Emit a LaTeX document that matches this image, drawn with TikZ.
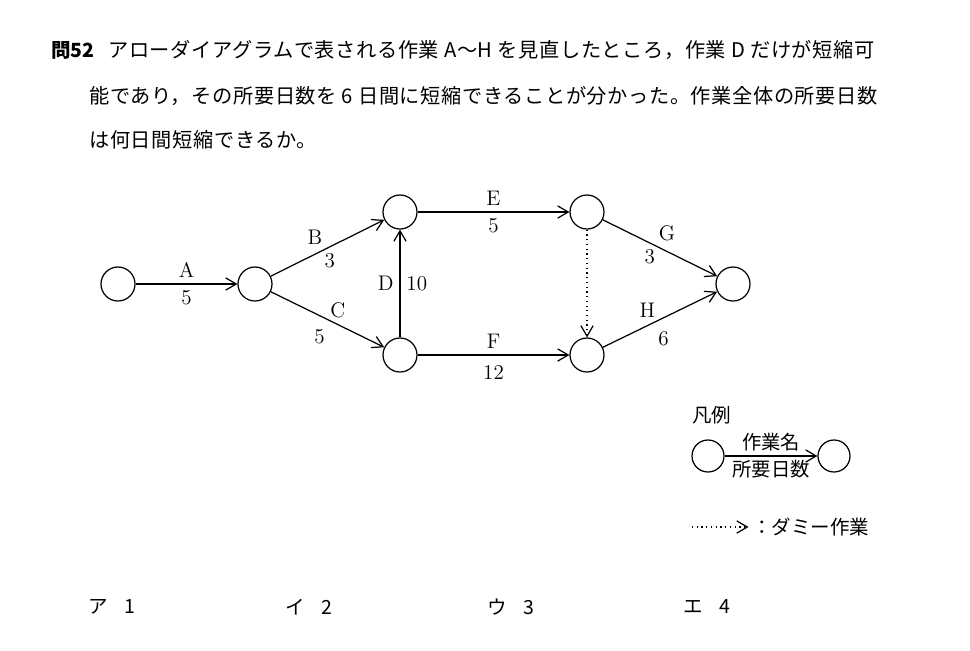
\documentclass[tikz,border=0pt]{standalone}
\usepackage{fontspec}
\usepackage{tikz}
\usetikzlibrary{shapes,arrows.meta}
\newfontfamily\jpfont{Noto Sans CJK JP}
\newfontfamily\jpwide[LetterSpace=3]{Noto Sans CJK JP}

\begin{document}
\begin{tikzpicture}[x=0.02cm,y=-0.02cm,
    event/.style={draw,circle,minimum size=0.68cm,inner sep=0pt,line width=0.7pt},
    act/.style={line width=0.7pt,-{Straight Barb[length=6pt,width=7pt]}},
    lbl/.style={font=\fontsize{12}{14}\selectfont},
    jp/.style={font=\jpfont\fontsize{11}{13}\selectfont},
    txt/.style={font=\jpfont\fontsize{11.1}{13}\selectfont,anchor=west,inner sep=0pt},
    qtxt/.style={txt,font=\jpwide\fontsize{11.5}{13}\selectfont}]
    \useasboundingbox (0,0) rectangle (970,650);

    \node[txt,font=\jpfont\bfseries\fontsize{11.1}{13}\selectfont] (qno) at (51,50) {問52};
    \node[qtxt] (q1) at (108,50) {アローダイアグラムで表される作業 A〜H を見直したところ，作業 D だけが短縮可};
    \node[qtxt] (q2) at (89,96) {能であり，その所要日数を 6 日間に短縮できることが分かった。作業全体の所要日数};
    \node[qtxt] (q3) at (89,140) {は何日間短縮できるか。};

    \node[event] (n1) at (118,284) {};
    \node[event] (n2) at (255,284) {};
    \node[event] (n3) at (400,212) {};
    \node[event] (n4) at (400,355) {};
    \node[event] (n5) at (587,212) {};
    \node[event] (n6) at (587,355) {};
    \node[event] (n7) at (733,284) {};

    \draw[act] (n1) to node[lbl,above] {A} node[lbl,below] {5} (n2);
    \draw[act] (n2) to node[lbl,pos=0.39,above=2pt] {B}
      node[lbl,pos=0.52,below] {3} (n3);
    \draw[act] (n2) to node[lbl,pos=0.59,above] {C}
      node[lbl,pos=0.43,below=4pt] {5} (n4);
    \draw[act] (n4) to node[lbl,left] {D} node[lbl,right] {10} (n3);
    \draw[act] (n3) to node[lbl,above] {E} node[lbl,below] {5} (n5);
    \draw[act] (n4) to node[lbl,above] {F} node[lbl,below=2pt] {12} (n6);
    \draw[act,dotted] (n5) to (n6);
    \draw[act] (n5) to node[lbl,pos=0.56,above=2.5pt] {G}
      node[lbl,pos=0.41,below] {3} (n7);
    \draw[act] (n6) to node[lbl,pos=0.39,above=1pt] {H}
      node[lbl,pos=0.53,below=4pt] {6} (n7);

    \node[txt] (key) at (692,415) {凡例};
    \node[event,minimum size=0.64cm] (k1) at (708,456) {};
    \node[event,minimum size=0.64cm] (k2) at (834,456) {};
    \draw[act] (k1) to node[jp,above=-1pt] {作業名} node[jp,below=-1pt] {所要日数} (k2);
    \coordinate (d0) at (692,527);
    \node[txt] (dm) at (752,527) {：ダミー作業};
    \draw[act,dotted] (d0) -- ([xshift=-2pt]dm.west);

    \node[txt] (c1) at (88,607) {ア\hspace{0.85em}1};
    \node[txt] (c2) at (285,607) {イ\hspace{0.85em}2};
    \node[txt] (c3) at (487,607) {ウ\hspace{0.85em}3};
    \node[txt] (c4) at (683,607) {エ\hspace{0.85em}4};
  \end{tikzpicture}
\end{document}
